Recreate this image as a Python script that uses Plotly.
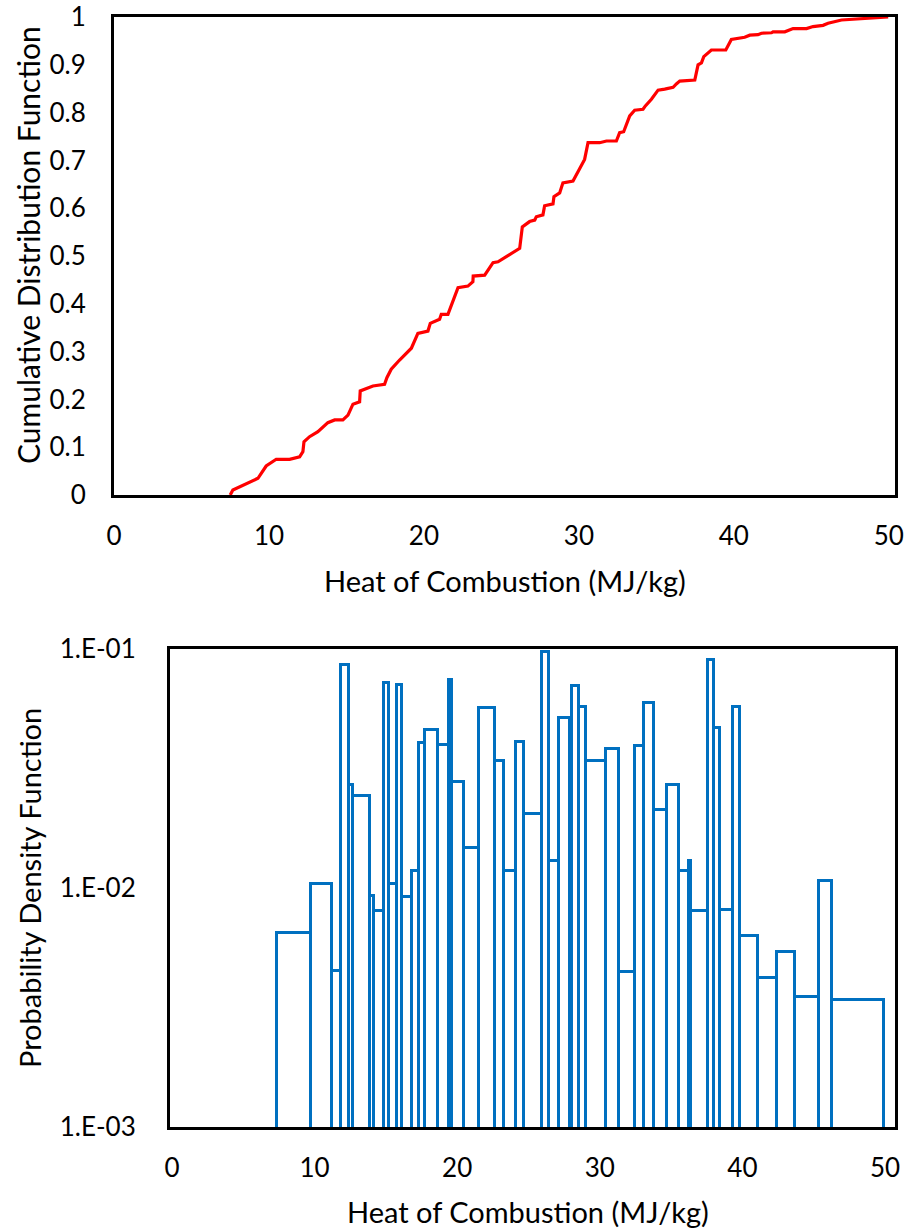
import plotly.graph_objects as go

# ---- CDF data (top panel) ----
cdf_x = [7.50, 7.67, 9.29, 9.82, 10.47, 11.33, 11.98, 12.19, 12.26, 12.62, 13.16, 13.80, 14.24, 14.77,
         15.10, 15.42, 15.85, 15.89, 16.71, 17.46, 17.61, 17.89, 18.43, 19.19, 19.61, 20.26, 20.41,
         21.01, 21.12, 21.55, 22.20, 22.84, 23.16, 23.18, 23.92, 24.46, 24.78, 25.53, 26.18, 26.35,
         26.82, 27.15, 27.25, 27.68, 27.79, 28.33, 28.39, 28.76, 28.97, 29.62, 30.37, 30.59, 31.34,
         31.78, 32.42, 32.63, 32.89, 33.28, 33.60, 34.14, 34.29, 34.68, 35.11, 35.54, 36.08, 36.29,
         36.51, 37.48, 37.69, 37.91, 38.06, 38.55, 39.48, 39.84, 40.70, 41.03, 41.56, 41.78, 42.43,
         42.53, 43.29, 43.82, 44.69, 45.11, 45.76, 46.08, 46.95, 49.96]
cdf_y = [0.000, 0.0105, 0.035, 0.0607, 0.0747, 0.0747, 0.080, 0.0906, 0.1115, 0.122, 0.1325, 0.1513,
         0.157, 0.157, 0.167, 0.190, 0.195, 0.2176, 0.228, 0.2315, 0.2455, 0.263, 0.2824, 0.307, 0.338,
         0.343, 0.359, 0.3675, 0.378, 0.378, 0.4337, 0.437, 0.446, 0.458, 0.460, 0.486, 0.488, 0.502,
         0.516, 0.561, 0.572, 0.575, 0.582, 0.586, 0.605, 0.609, 0.624, 0.632, 0.653, 0.657, 0.702,
         0.737, 0.737, 0.7406, 0.7406, 0.758, 0.760, 0.793, 0.805, 0.807, 0.814, 0.828, 0.847, 0.849,
         0.853, 0.860, 0.866, 0.868, 0.900, 0.904, 0.917, 0.931, 0.931, 0.953, 0.9575, 0.962, 0.963,
         0.966, 0.967, 0.969, 0.969, 0.9757, 0.9757, 0.980, 0.9826, 0.9868, 0.9937, 1.000]

# ---- PDF histogram data (bottom panel) ----
bin_edges = [7.39, 9.72, 11.19, 11.82, 12.38, 12.68, 13.85, 14.20, 14.90, 15.24, 15.76, 16.13, 16.83,
             17.32, 17.76, 18.62, 19.44, 19.60, 20.49, 21.54, 22.63, 23.29, 24.10, 24.69, 25.97, 26.43,
             27.13, 27.88, 28.06, 28.53, 29.00, 30.40, 31.33, 32.50, 33.08, 33.78, 34.71, 35.52, 36.25,
             36.39, 37.62, 38.04, 38.44, 39.37, 39.84, 41.12, 42.40, 43.68, 45.36, 46.25, 49.93]
pdf_values = [0.0065, 0.0104, 0.0045, 0.0857, 0.0270, 0.0242, 0.0093, 0.0080, 0.0719, 0.0104, 0.0708,
              0.0092, 0.0118, 0.0404, 0.0459, 0.0397, 0.0743, 0.0279, 0.0147, 0.0565, 0.0339, 0.0118,
              0.0410, 0.0204, 0.0975, 0.0130, 0.0514, 0.0040, 0.0697, 0.0574, 0.0339, 0.0381, 0.00445,
              0.0391, 0.0593, 0.0213, 0.0270, 0.0118, 0.0130, 0.0080, 0.0900, 0.0467, 0.0081, 0.0574,
              0.0063, 0.0042, 0.0054, 0.0035, 0.0107, 0.0034]

x_ticks = [0, 10, 20, 30, 40, 50]
cdf_ticks = [0, 0.1, 0.2, 0.3, 0.4, 0.5, 0.6, 0.7, 0.8, 0.9, 1]
cdf_ticktext = ["0", "0.1", "0.2", "0.3", "0.4", "0.5", "0.6", "0.7", "0.8", "0.9", "1"]
pdf_ticks = [1e-3, 1e-2, 1e-1]
pdf_ticktext = ["1.E-03", "1.E-02", "1.E-01"]

centers = [(a + b) / 2 for a, b in zip(bin_edges[:-1], bin_edges[1:])]
widths = [b - a for a, b in zip(bin_edges[:-1], bin_edges[1:])]

FONT = "Lato"
FS_TICK = 26
FS_TITLE = 29
W, H = 916, 1228

fig = go.Figure()
fig.add_trace(go.Scatter(x=cdf_x, y=cdf_y, mode="lines",
                         line=dict(color="#FF0000", width=3.2), xaxis="x", yaxis="y",
                         showlegend=False, hoverinfo="skip"))
fig.add_trace(go.Bar(x=centers, y=pdf_values, width=widths, xaxis="x2", yaxis="y2",
                     marker=dict(color="rgba(0,0,0,0)", line=dict(color="#0070C0", width=3)),
                     showlegend=False))

def px_x(p):
    return p / W

def px_y(p):
    return 1 - p / H

axis_common = dict(showgrid=False, zeroline=False, showline=True, linecolor="black",
                   linewidth=3, mirror=True, ticks="outside", tickcolor="rgba(0,0,0,0)",
                   automargin=False, ticklabeloverflow="allow",
                   tickfont=dict(family=FONT, size=FS_TICK, color="black"))

fig.update_layout(
    template="none",
    width=W, height=H,
    margin=dict(l=0, r=0, t=0, b=0, pad=0),
    paper_bgcolor="white", plot_bgcolor="white",
    font=dict(family=FONT, size=FS_TICK, color="black"),
    bargap=0,
    xaxis=dict(domain=[px_x(114), px_x(895)], range=[0, 50.4], tickvals=x_ticks,
               ticklen=16, anchor="y", **axis_common),
    yaxis=dict(domain=[px_y(495), px_y(17)], range=[0, 1], tickvals=cdf_ticks,
               ticktext=cdf_ticktext, ticklen=20, anchor="x", **axis_common),
    xaxis2=dict(domain=[px_x(170), px_x(895)], range=[-0.14, 50.7], tickvals=x_ticks,
                ticklen=16, anchor="y2", **axis_common),
    yaxis2=dict(domain=[px_y(1127), px_y(649)], type="log", range=[-3, -1],
                tickvals=pdf_ticks, ticktext=pdf_ticktext, ticklen=26, anchor="x2",
                **axis_common),
    annotations=[
        dict(text="Heat of Combustion (MJ/kg)", x=px_x(505), y=px_y(580), xref="paper",
             yref="paper", showarrow=False, xanchor="center", yanchor="middle",
             font=dict(family=FONT, size=FS_TITLE)),
        dict(text="Cumulative Distribution Function", x=px_x(28), y=px_y(245), xref="paper",
             yref="paper", showarrow=False, textangle=-90, xanchor="center", yanchor="middle",
             font=dict(family=FONT, size=30)),
        dict(text="Heat of Combustion (MJ/kg)", x=px_x(528), y=px_y(1211), xref="paper",
             yref="paper", showarrow=False, xanchor="center", yanchor="middle",
             font=dict(family=FONT, size=FS_TITLE)),
        dict(text="Probability Density Function", x=px_x(29), y=px_y(888), xref="paper",
             yref="paper", showarrow=False, textangle=-90, xanchor="center", yanchor="middle",
             font=dict(family=FONT, size=FS_TITLE)),
    ],
)

fig.write_html("out.html")
